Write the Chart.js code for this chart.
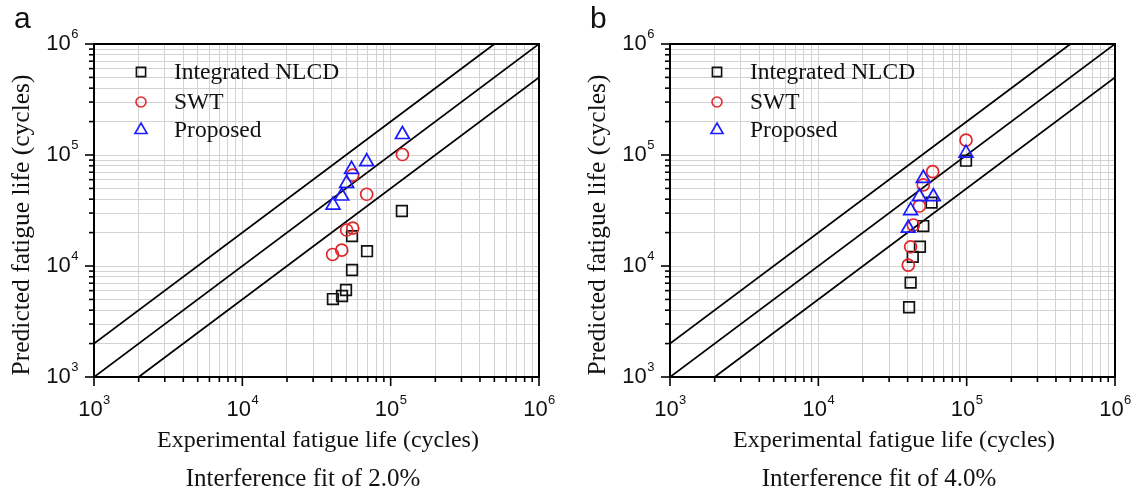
<!DOCTYPE html>
<html>
<head>
<meta charset="utf-8">
<script src="https://cdn.jsdelivr.net/npm/chart.js@4.4.0/dist/chart.umd.min.js"></script>
<style>
  html, body { margin: 0; padding: 0; background: #fff; }
  #wrap { position: relative; width: 1135px; height: 494px; }
  canvas { position: absolute; top: 0; }
  #chartA { left: 0; }
  #chartB { left: 567px; }
</style>
</head>
<body>
<div id="wrap">
  <canvas id="chartA" width="567" height="494"></canvas>
  <canvas id="chartB" width="568" height="494"></canvas>
</div>
<script>
// tick positions (log axes, both panels)
var decades = [1e3, 1e4, 1e5, 1e6];
var mantissas = [1, 2, 3, 4, 5, 6, 7, 8, 9];

// panel a - interference fit 2.0%  (experimental x, predicted y)
var nlcdA_x = [40800, 47000, 50000, 54900, 54900, 69300, 119000];
var nlcdA_y = [5040, 5370, 6080, 9200, 18600, 13600, 31300];
var swtA_x = [40600, 46800, 50500, 55500, 68900, 55500, 120000];
var swtA_y = [12700, 13900, 21100, 21900, 44300, 66000, 101000];
var propA_x = [40900, 46800, 50500, 54500, 68900, 120000];
var propA_y = [35400, 42700, 55600, 74300, 87000, 153000];

// panel b - interference fit 4.0%
var nlcdB_x = [40900, 41900, 43300, 48400, 51000, 58000, 99000];
var nlcdB_y = [4250, 7080, 12100, 14900, 22900, 37200, 88900];
var swtB_x = [40400, 41900, 43700, 48000, 51000, 59000, 99000];
var swtB_y = [10200, 14900, 23400, 34700, 53700, 70700, 136000];
var propB_x = [40400, 41900, 48000, 51000, 59600, 99000];
var propB_y = [21900, 31500, 42100, 61700, 42100, 104000];

// factor-of-two scatter band and the 1:1 line
var bandUpper = [[1000, 2000], [500000, 1000000]];
var bandMid = [[1000, 1000], [1000000, 1000000]];
var bandLower = [[2000, 1000], [1000000, 500000]];

var seriesNames = ['Integrated NLCD', 'SWT', 'Proposed'];

var tickValues = [];
decades.forEach(function(d, i) {
  if (i === decades.length - 1) { tickValues.push(d); return; }
  mantissas.forEach(function(m) { tickValues.push(m * d); });
});

function isPow10(v) {
  var e = Math.log10(v);
  return Math.abs(e - Math.round(e)) < 1e-9;
}

function toPoints(xs, ys) {
  return xs.map(function(x, i) { return { x: x, y: ys[i] }; });
}
function pairs(arr) {
  return arr.map(function(p) { return { x: p[0], y: p[1] }; });
}

var markerStyles = [
  { pointStyle: 'rect', radius: 7.5, color: '#111111' },
  { pointStyle: 'circle', radius: 6, color: '#e0262b' },
  { pointStyle: 'triangle', radius: 8, color: '#1a1aff' }
];

var serif = '"Liberation Serif", "Times New Roman", serif';
var sans = '"Liberation Sans", Arial, sans-serif';

function drawPow(ctx, exp, x, y, align) {
  ctx.font = '22px ' + sans;
  var w1 = ctx.measureText('10').width;
  ctx.font = '13px ' + sans;
  var w2 = ctx.measureText(String(exp)).width;
  var start = align === 'center' ? x - (w1 + w2) / 2 : x - (w1 + w2);
  ctx.textAlign = 'left';
  ctx.textBaseline = 'middle';
  ctx.font = '22px ' + sans;
  ctx.fillText('10', start, y);
  ctx.font = '13px ' + sans;
  ctx.fillText(String(exp), start + w1 + 0.5, y - 10);
}

var framePlugin = {
  id: 'frame',
  afterDraw: function(chart, args, o) {
    var ctx = chart.ctx, a = chart.chartArea;
    var xs = chart.scales.x, ys = chart.scales.y;
    ctx.save();
    ctx.strokeStyle = '#000';
    ctx.fillStyle = '#111';

    // ticks
    ctx.lineWidth = 1.6;
    tickValues.forEach(function(v) {
      var len = isPow10(v) ? 9 : 5;
      var px = xs.getPixelForValue(v);
      ctx.beginPath(); ctx.moveTo(px, a.bottom); ctx.lineTo(px, a.bottom + len); ctx.stroke();
      var py = ys.getPixelForValue(v);
      ctx.beginPath(); ctx.moveTo(a.left, py); ctx.lineTo(a.left - len, py); ctx.stroke();
    });

    // box
    ctx.lineWidth = 2;
    ctx.strokeRect(a.left, a.top, a.right - a.left, a.bottom - a.top);

    // tick labels
    decades.forEach(function(d) {
      var e = Math.round(Math.log10(d));
      drawPow(ctx, e, xs.getPixelForValue(d), a.bottom + 33, 'center');
      drawPow(ctx, e, a.left - 16, ys.getPixelForValue(d), 'right');
    });

    // axis titles
    ctx.textAlign = 'center';
    ctx.textBaseline = 'middle';
    ctx.font = '24px ' + serif;
    ctx.fillText('Experimental fatigue life (cycles)', a.left + 224, 441);
    ctx.font = '25px ' + serif;
    ctx.fillText(o.subtitle, a.left + 209, 479);
    ctx.save();
    ctx.translate(a.left - 72, 225);
    ctx.rotate(-Math.PI / 2);
    ctx.font = '25.5px ' + serif;
    ctx.fillText('Predicted fatigue life (cycles)', 0, 0);
    ctx.restore();

    // panel letter
    ctx.font = '30px ' + sans;
    ctx.textAlign = 'left';
    ctx.textBaseline = 'alphabetic';
    ctx.fillText(o.letter, a.left - 80, 28);

    // legend
    var rows = [28, 58, 86];
    seriesNames.forEach(function(name, i) {
      var m = markerStyles[i];
      var lx = a.left + 47, ly = a.top + rows[i];
      ctx.save();
      ctx.strokeStyle = m.color;
      ctx.fillStyle = 'rgba(0,0,0,0)';
      ctx.lineWidth = 1.6;
      Chart.helpers.drawPoint(ctx, { pointStyle: m.pointStyle, radius: m.radius - 1, rotation: 0, borderWidth: 1.6 }, lx, ly);
      ctx.restore();
      ctx.font = '23.5px ' + serif;
      ctx.textBaseline = 'middle';
      ctx.fillStyle = '#111';
      ctx.fillText(name, a.left + 80, ly + 1);
    });
    ctx.restore();
  }
};

function lineSet(arr) {
  return {
    type: 'line', data: pairs(arr), borderColor: '#000', borderWidth: 1.8,
    pointRadius: 0, fill: false, order: 10
  };
}

function markerSet(i, pts) {
  var m = markerStyles[i];
  return {
    label: seriesNames[i], data: pts, pointStyle: m.pointStyle, pointRadius: m.radius,
    pointBorderColor: m.color, pointBackgroundColor: 'rgba(0,0,0,0)', pointBorderWidth: 1.7,
    showLine: false, order: 3 - i
  };
}

function makePanel(id, rightPad, axisWidth, letter, subtitle, sets) {
  var grid = { color: '#d2d2d2', lineWidth: 1, drawTicks: false };
  return new Chart(document.getElementById(id), {
    type: 'scatter',
    data: {
      datasets: [
        lineSet(bandUpper), lineSet(bandMid), lineSet(bandLower),
        markerSet(0, sets[0]), markerSet(1, sets[1]), markerSet(2, sets[2])
      ]
    },
    options: {
      responsive: false,
      animation: false,
      layout: { padding: { left: 0, top: 44, right: rightPad, bottom: 0 } },
      plugins: { legend: { display: false }, tooltip: { enabled: false }, frame: { letter: letter, subtitle: subtitle } },
      scales: {
        x: {
          type: 'logarithmic', min: 1000, max: 1000000,
          afterBuildTicks: function(s) { s.ticks = tickValues.map(function(v) { return { value: v }; }); },
          afterFit: function(s) { s.height = 117; },
          ticks: { display: false }, grid: grid, border: { display: false }
        },
        y: {
          type: 'logarithmic', min: 1000, max: 1000000,
          afterBuildTicks: function(s) { s.ticks = tickValues.map(function(v) { return { value: v }; }); },
          afterFit: function(s) { s.width = axisWidth; },
          ticks: { display: false }, grid: grid, border: { display: false }
        }
      }
    },
    plugins: [framePlugin]
  });
}

makePanel('chartA', 28, 94, 'a', 'Interference fit of 2.0%', [
  toPoints(nlcdA_x, nlcdA_y), toPoints(swtA_x, swtA_y), toPoints(propA_x, propA_y)
]);
makePanel('chartB', 20, 103, 'b', 'Interference fit of 4.0%', [
  toPoints(nlcdB_x, nlcdB_y), toPoints(swtB_x, swtB_y), toPoints(propB_x, propB_y)
]);
</script>
</body>
</html>
